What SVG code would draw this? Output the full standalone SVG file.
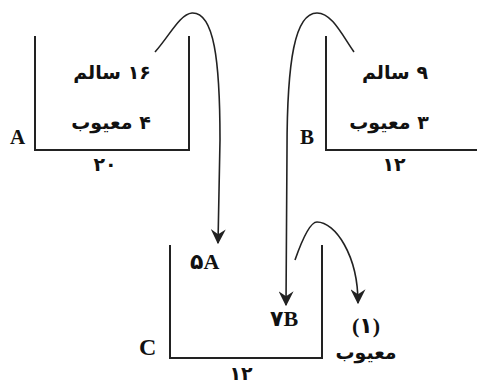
<svg xmlns="http://www.w3.org/2000/svg" width="477" height="383" viewBox="0 0 477 383">
<defs>
<style>
.box{fill:none;stroke:#222;stroke-width:2}
.con{fill:none;stroke:#222;stroke-width:1.6}
.fa{font-family:"DejaVu Sans","Noto Sans",sans-serif;font-weight:bold;font-size:19px;fill:#111;direction:rtl;unicode-bidi:embed}
.lat{font-family:"Liberation Serif",serif;font-weight:bold;font-size:21px;fill:#111}
.mix{font-family:"Liberation Serif","DejaVu Sans",serif;font-weight:bold;font-size:22px;fill:#111}
</style>
<marker id="ah" viewBox="0 0 12 12" refX="11" refY="6" markerWidth="15" markerHeight="15" markerUnits="userSpaceOnUse" orient="auto">
<path d="M0,0 L12,6 L0,12 L4,6 z" fill="#222"/>
</marker>
</defs>
<rect width="477" height="383" fill="#fff"/>
<g id="A">
<path class="box" d="M35,36 V150 H189 V36"/>
<text class="fa" x="112" y="79" text-anchor="middle">۱۶ سالم</text>
<text class="fa" x="111" y="129" text-anchor="middle">۴ معیوب</text>
<text class="lat" x="10" y="144">A</text>
<text class="fa" x="105" y="171" text-anchor="middle">۲۰</text>
</g>
<g id="B">
<path class="box" d="M326,36 V150 H477"/>
<text class="fa" x="395" y="79" text-anchor="middle">۹ سالم</text>
<text class="fa" x="389" y="129" text-anchor="middle">۳ معیوب</text>
<text class="lat" x="300" y="144">B</text>
<text class="fa" x="394" y="171" text-anchor="middle">۱۲</text>
</g>
<g id="C">
<path class="box" d="M170,245 V358 H322 V245"/>
<text class="mix" x="190" y="269">۵A</text>
<text class="mix" x="270" y="326">۷B</text>
<text class="lat" x="139" y="355" style="font-size:24px">C</text>
<text class="fa" x="241" y="380" text-anchor="middle">۱۲</text>
</g>
<g id="out">
<text class="mix" x="366" y="333" text-anchor="middle">(۱)</text>
<text class="fa" x="366" y="359" text-anchor="middle">معیوب</text>
</g>
<g id="connectors">
<path class="con" marker-end="url(#ah)" d="M155,52 C170,35 180,14 192,13 C214,12 220,60 220,140 L218,243"/>
<path class="con" marker-end="url(#ah)" d="M354,52 C342,35 332,13 317,13 C295,13 287,60 287,150 L286,305"/>
<path class="con" marker-end="url(#ah)" d="M295,260 C302,240 310,222 317,222 C335,222 358,255 358,303"/>
</g>
</svg>
